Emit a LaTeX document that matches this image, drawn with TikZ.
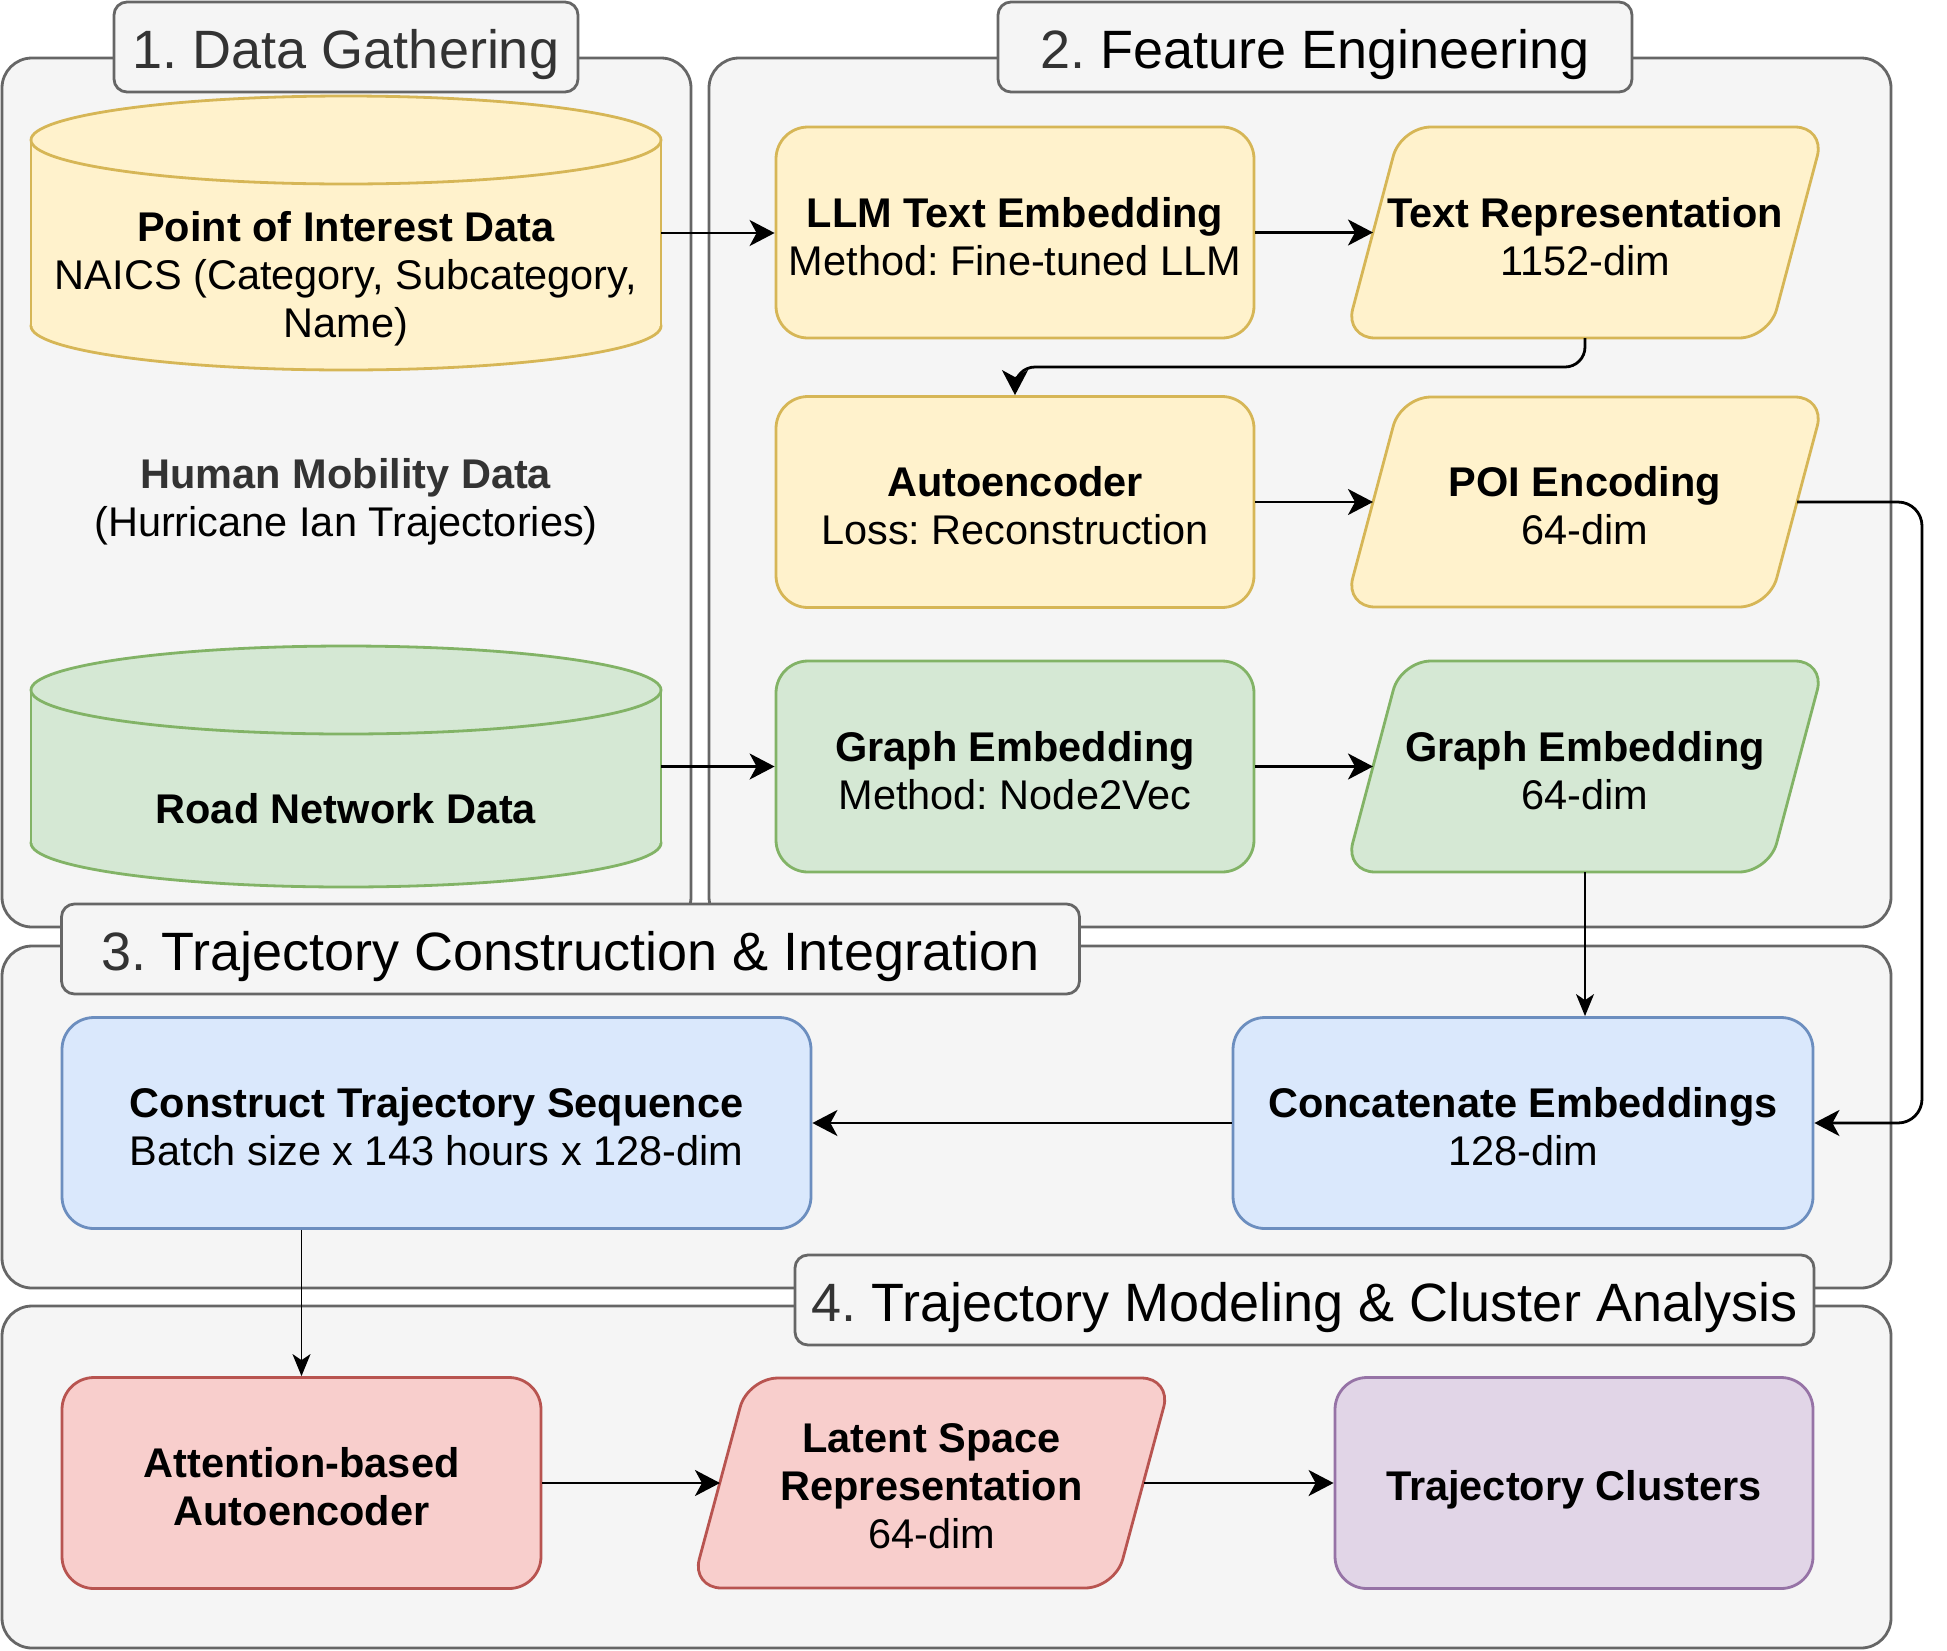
\documentclass[tikz,border=0pt]{standalone}
\usepackage{fontspec}
\setmainfont{Liberation Sans}
\usetikzlibrary{arrows.meta}
\frenchspacing
\definecolor{grpfill}{HTML}{F5F5F5}
\definecolor{grpline}{HTML}{666666}
\definecolor{ttxt}{HTML}{333333}
\definecolor{yfill}{HTML}{FFF2CC}
\definecolor{yline}{HTML}{D6B656}
\definecolor{gfill}{HTML}{D5E8D4}
\definecolor{gline}{HTML}{82B366}
\definecolor{bfill}{HTML}{DAE8FC}
\definecolor{bline}{HTML}{6C8EBF}
\definecolor{rfill}{HTML}{F8CECC}
\definecolor{rline}{HTML}{B85450}
\definecolor{pfill}{HTML}{E1D5E7}
\definecolor{pline}{HTML}{9673A6}
\newcommand\bodyfont{\fontsize{41.5}{48}\selectfont\lineskiplimit=-1000pt\relax}
\newcommand\titlefont{\fontsize{54}{64.8}\selectfont\lineskiplimit=-1000pt\relax}
% line struts mimicking the line boxes of the original
\newcommand\lstrut{\rule[-5.2pt]{0pt}{48pt}}
\newcommand\tstrut{\rule[-10.9pt]{0pt}{64.8pt}}
\tikzset{
  grp/.style={draw=grpline, fill=grpfill, line width=2.8pt, rounded corners=30pt},
  ttl/.style={draw=grpline, fill=grpfill, line width=2.8pt, rounded corners=13pt,
    font=\titlefont, text=black, inner sep=0pt, minimum height=90pt},
  box/.style={line width=2.8pt, rounded corners=32pt, align=center, font=\bodyfont,
    inner sep=0pt, minimum width=478pt, minimum height=211pt},
  parashape/.style={line width=2.8pt, rounded corners=30pt},
  txt/.style={align=center, font=\bodyfont, inner sep=0pt},
  anchorbox/.style={inner sep=0pt, draw=none, fill=none},
  yel/.style={draw=yline, fill=yfill},
  grn/.style={draw=gline, fill=gfill},
  blu/.style={draw=bline, fill=bfill},
  red/.style={draw=rline, fill=rfill},
  pur/.style={draw=pline, fill=pfill},
  arr/.style={line width=2.8pt, -{Stealth[length=25pt,width=26pt,inset=7pt]}},
  thinarr/.style={line width=1.5pt, -{Stealth[length=22pt,width=18pt,inset=6pt]}},
}
\begin{document}
\begin{tikzpicture}[x=1pt,y=-1pt]
\useasboundingbox (0,0) rectangle (1947,1650);

% ---------- group containers ----------
\draw[grp] (2,58) rectangle (691,927);
\draw[grp] (709,58) rectangle (1891,927);
\draw[grp] (2,946) rectangle (1891,1288);
\draw[grp] (2,1306) rectangle (1891,1648);

% ---------- titles ----------
\node[ttl, minimum width=464pt] (t1) at (346,47) {\tstrut\textcolor{ttxt}{1. Data Gathering}};
\node[ttl, minimum width=634pt] (t2) at (1315,47) {\tstrut\textcolor{ttxt}{2.} Feature Engineering};
\node[ttl, minimum width=1018pt] (t3) at (570.5,949) {\tstrut\textcolor{ttxt}{3.} Trajectory Construction \& Integration};
\node[ttl, minimum width=1019pt] (t4) at (1304.5,1300) {\tstrut\textcolor{ttxt}{4.} Trajectory Modeling \& Cluster Analysis};

% ---------- group 1: data gathering ----------
% POI cylinder
\filldraw[yel, line width=2.8pt] (346,326) ellipse [x radius=315pt, y radius=44pt];
\fill[yfill] (31,140) rectangle (661,326);
\draw[yline, line width=2.8pt] (31,140) -- (31,326) (661,140) -- (661,326);
\filldraw[yel, line width=2.8pt] (346,140) ellipse [x radius=315pt, y radius=44pt];
\node[anchorbox, minimum width=630pt, minimum height=274pt] (poi) at (346,233) {};
\node[txt] (poitxt) at (346,272.5) {\lstrut\textbf{Point of Interest Data}\\\lstrut NAICS (Category, Subcategory,\\\lstrut Name)};

\node[txt] (hmd) at (346,495) {\lstrut\textcolor{ttxt}{\textbf{Human Mobility Data}}\\\lstrut(Hurricane Ian Trajectories)};

% Road network cylinder
\filldraw[grn, line width=2.8pt] (346,843) ellipse [x radius=315pt, y radius=44pt];
\fill[gfill] (31,690) rectangle (661,843);
\draw[gline, line width=2.8pt] (31,690) -- (31,843) (661,690) -- (661,843);
\filldraw[grn, line width=2.8pt] (346,690) ellipse [x radius=315pt, y radius=44pt];
\node[anchorbox, minimum width=630pt, minimum height=241pt] (road) at (346,766.5) {};
\node[txt] (roadtxt) at (346,805) {\lstrut\textbf{Road Network Data}};

% ---------- group 2: feature engineering ----------
\node[box, yel] (llm) at (1015,232.5) {\lstrut\textbf{LLM Text Embedding}\\\lstrut Method: Fine-tuned LLM};
\node[box, yel] (ae) at (1015,502) {\lstrut\textbf{Autoencoder}\\\lstrut Loss: Reconstruction};
\node[box, grn] (ge) at (1015,766.5) {\lstrut\textbf{Graph Embedding}\\\lstrut Method: Node2Vec};

\draw[parashape, yel] (1401,127) -- (1825,127) -- (1769,338) -- (1345,338) -- cycle;
\node[txt] (tr) at (1585,232.5) {\lstrut\textbf{Text Representation}\\\lstrut 1152-dim};
\coordinate (trW) at (1373,232.5);
\coordinate (trS) at (1585,338);

\draw[parashape, yel] (1401,397) -- (1825,397) -- (1769,607) -- (1345,607) -- cycle;
\node[txt] (pe) at (1585,502) {\lstrut\textbf{POI Encoding}\\\lstrut 64-dim};
\coordinate (peW) at (1373,502);
\coordinate (peE) at (1797,502);

\draw[parashape, grn] (1401,661) -- (1825,661) -- (1769,872) -- (1345,872) -- cycle;
\node[txt] (gp) at (1585,766.5) {\lstrut\textbf{Graph Embedding}\\\lstrut 64-dim};
\coordinate (gpW) at (1373,766.5);
\coordinate (gpS) at (1585,872);

% ---------- group 3 ----------
\node[box, blu, minimum width=749pt] (cts) at (436.5,1123) {\lstrut\textbf{Construct Trajectory Sequence}\\\lstrut Batch size x 143 hours x 128-dim};
\node[box, blu, minimum width=580pt] (cc) at (1523,1123) {\lstrut\textbf{Concatenate Embeddings}\\\lstrut 128-dim};

% ---------- group 4 ----------
\node[box, red, minimum width=479pt] (att) at (301.5,1483) {\lstrut\textbf{Attention-based}\\\lstrut\textbf{Autoencoder}};
\draw[parashape, red] (748,1378) -- (1171.5,1378) -- (1115,1588) -- (691.5,1588) -- cycle;
\node[txt] (ls) at (931.5,1482) {\lstrut\textbf{Latent Space}\\\lstrut\textbf{Representation}\\\lstrut 64-dim};
\coordinate (lsW) at (720,1483);
\coordinate (lsE) at (1143.5,1483);
\node[box, pur, minimum width=478pt] (cl) at (1574,1483) {\lstrut\textbf{Trajectory Clusters}};

% ---------- connectors ----------
\coordinate (bendA) at (1300,367);
\coordinate (bendB) at (1922,800);
\draw[arr] (poi.east) -- (poi.east -| llm.west);
\draw[arr] (llm.east) -- (trW);
\draw[arr, rounded corners=20pt] (trS) |- (bendA) -| (ae.north);
\draw[arr] (ae.east) -- (peW);
\draw[arr, rounded corners=24pt] (peE) -| (bendB) |- (cc.east);
\draw[arr] (road.east) -- (road.east -| ge.west);
\draw[arr] (ge.east) -- (gpW);
\draw[thinarr] (gpS) -- (gpS |- cc.north);
\draw[arr] (cc.west) -- (cts.east);
\draw[thinarr] (att.north |- cts.south) -- (att.north);
\draw[arr] (att.east) -- (lsW);
\draw[arr] (lsE) -- (cl.west);
\end{tikzpicture}
\end{document}
